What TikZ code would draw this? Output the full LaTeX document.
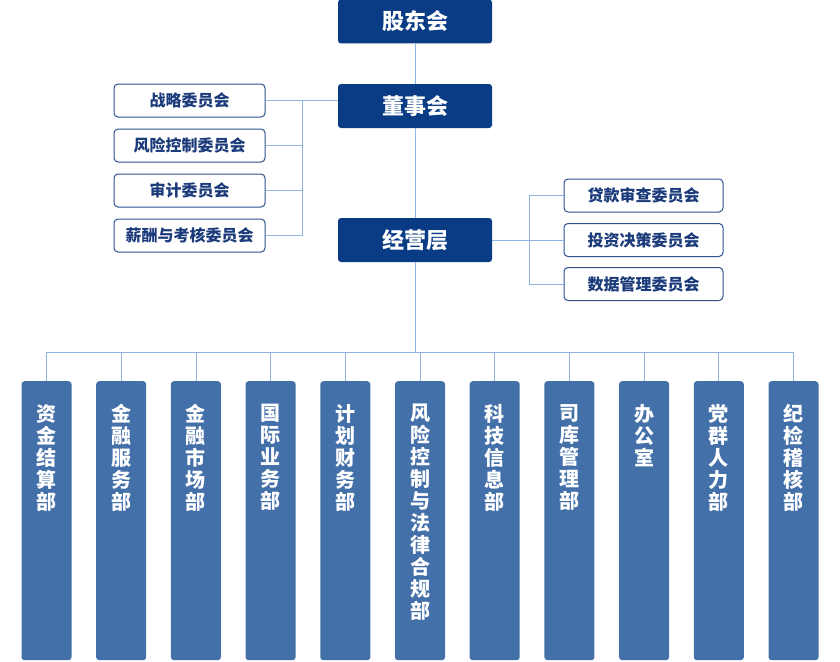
\documentclass[tikz,border=0pt]{standalone}
\usepackage{fontspec}
\setmainfont{Noto Sans CJK SC}
\usepackage{tikz}
\usetikzlibrary{positioning}

\definecolor{topblue}{HTML}{0A3C86}
\definecolor{deptblue}{HTML}{4470AA}
\definecolor{linkblue}{HTML}{8EB4E3}
\definecolor{comborder}{HTML}{2E5190}
\definecolor{comtext}{HTML}{1B3A7A}

\begin{document}
\begin{tikzpicture}[x=1pt, y=-1pt,
    headbox/.style={fill=topblue, rounded corners=3pt, minimum width=154pt, minimum height=44pt, inner sep=0pt, text=white, font=\bfseries\fontsize{22}{22}\selectfont},
    combox/.style={draw=comborder, line width=1pt, fill=white, rounded corners=4pt, minimum width=151pt, minimum height=33pt, inner sep=0pt, text=comtext, font=\bfseries\fontsize{16}{16}\selectfont},
    deptbox/.style={fill=deptblue, rounded corners=3pt, minimum width=50pt, minimum height=279pt, inner sep=0pt, anchor=north},
    depttext/.style={text=white, align=center, inner sep=0pt, font=\bfseries\fontsize{20}{22}\selectfont},
    link/.style={draw=linkblue, line width=0.8pt}]
    \useasboundingbox (0, 0) rectangle (840, 661);
    % main line
    \node [headbox] (gd) at (415, 21.5) {股东会};
    \node [headbox] (dsh) at (415, 106) {董事会};
    \node [headbox] (jyc) at (415, 240) {经营层};
    \coordinate (bus) at (415, 352);
    \draw [link] (gd.south) to (dsh.north);
    \draw [link] (dsh.south) to (jyc.north);
    \draw [link] (jyc.south) to (bus);
    % board committees
    \node [combox] (c1) at (189.5, 100.5) {战略委员会};
    \node [combox] (c2) at (189.5, 145.5) {风险控制委员会};
    \node [combox] (c3) at (189.5, 190.5) {审计委员会};
    \node [combox] (c4) at (189.5, 235.5) {薪酬与考核委员会};
    \coordinate (lj) at (302, 100);
    \draw [link] (c1.east) to (c1.east -| dsh.west);
    \draw [link] (c1.east -| lj) to (c4.east -| lj);
    \foreach \i in {2,3,4}
        \draw [link] (c\i.east) to (c\i.east -| lj);
    % management committees
    \node [combox, minimum width=159pt] (r1) at (643.5, 195.5) {贷款审查委员会};
    \node [combox, minimum width=159pt] (r2) at (643.5, 240) {投资决策委员会};
    \node [combox, minimum width=159pt] (r3) at (643.5, 284) {数据管理委员会};
    \coordinate (rj) at (529, 240);
    \draw [link] (jyc.east) to (r2.west);
    \draw [link] (r1.west -| rj) to (r3.west -| rj);
    \draw [link] (r1.west) to (r1.west -| rj);
    \draw [link] (r3.west) to (r3.west -| rj);
    % departments
    \foreach \txt [count=\i] in {{资\\金\\结\\算\\部}, {金\\融\\服\\务\\部}, {金\\融\\市\\场\\部},
        {国\\际\\业\\务\\部}, {计\\划\\财\\务\\部}, {风\\险\\控\\制\\与\\法\\律\\合\\规\\部},
        {科\\技\\信\\息\\部}, {司\\库\\管\\理\\部}, {办\\公\\室}, {党\\群\\人\\力\\部},
        {纪\\检\\稽\\核\\部}} {
        \node [deptbox] (d\i) at ({46.5+(\i-1)*74.7}, 381) {};
        \node [depttext, below=23pt of d\i.north] (t\i) {\txt};
        \draw [link] (d\i.north) to (d\i.north |- bus);
    }
    \draw [link] (d1.north |- bus) to (d11.north |- bus);
\end{tikzpicture}
\end{document}
